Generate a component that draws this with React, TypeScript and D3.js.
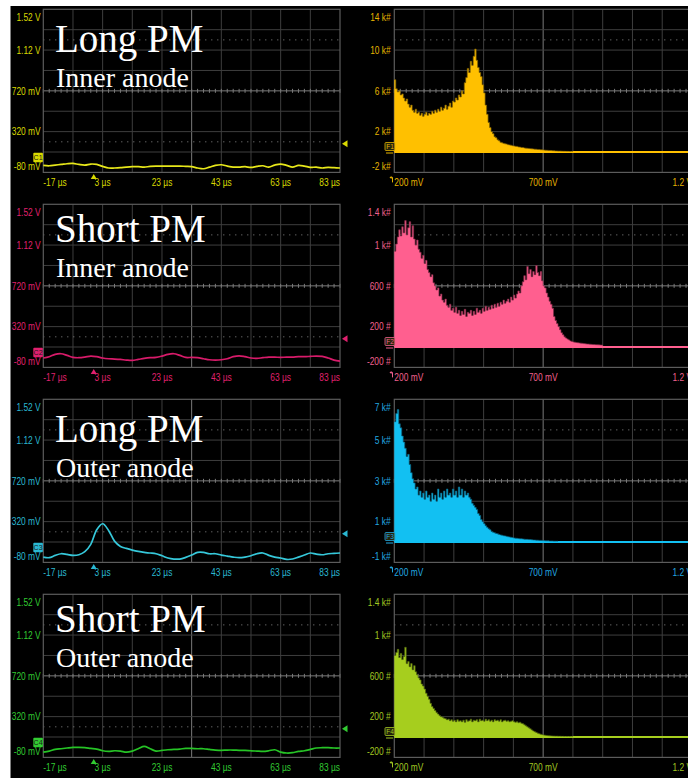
import React from 'react';
import * as d3 from 'd3';

const W = 688;
const H = 778;

// scope traces, one sample every 2 µs from -17 µs to 83 µs (values in mV)
const traceTimes = d3.range(-17, 84, 2);

const longInnerTrace = [
  -11, -15, -8, -2, 5, 8, -2, -8, 2, -2, -21, -37, -37, -34, -28, -24, -24, -28, -21, -18,
  -18, -18, -18, -18, -21, -24, -37, -44, -28, -11, -5, -18, -28, -28, -24, -31, -21, -15, -28, -8,
  2, -11, -28, -11, -18, -31, -28, -37, -31, -34, -37,
];
const shortInnerTrace = [
  12, 25, 48, 54, 38, 18, 15, 21, 31, 25, 12, 5, 2, -2, -8, -11, -2, 8, 15, 18,
  31, 48, 54, 38, 18, 18, 15, 5, -5, -8, -5, 5, 25, 34, 25, 12, 8, 15, 21, 21,
  18, 21, 21, 25, 25, 28, 31, 28, 12, -8, -18,
];
const longOuterTrace = [
  -28, -34, -11, 5, -2, -11, -5, 25, 97, 240, 299, 234, 129, 77, 57, 41, 28, 18, 12, 5,
  -15, -37, -47, -47, -31, -8, 18, 18, 5, 5, -8, -18, -28, -34, -28, -15, 5, 12, -11, -28,
  -37, -51, -47, -28, -8, 12, 2, -5, 5, 8, 12,
];
const shortOuterTrace = [
  -28, -18, -2, 5, 12, 18, 18, 15, 8, 2, -15, -21, -15, -18, -28, -18, 5, 28, 5, -18,
  -11, -5, -2, 2, 8, 8, 5, 5, -2, -8, -11, -8, -8, -11, -11, -15, -18, -21, -15, -5,
  -28, -37, -34, -21, -15, -2, 12, 15, 15, 12, 12,
];

// pulse height histograms, 5 mV bins starting at 200 mV
const binStart = 200;
const binWidth = 5;

// k#
const longInnerHist = [
  7.1, 6.2, 5.9, 6.0, 5.6, 5.7, 5.3, 5.0, 5.2, 4.7, 4.4, 4.6, 4.1, 3.9, 4.2, 3.8, 3.9, 3.6, 3.8, 3.5,
  3.7, 3.9, 3.6, 3.8, 3.7, 4.0, 3.8, 4.1, 3.9, 4.2, 4.0, 4.4, 4.1, 4.3, 4.6, 4.2, 4.5, 4.8, 4.4, 5.0,
  4.9, 5.3, 5.1, 5.6, 5.4, 6.0, 5.7, 6.8, 7.3, 8.2, 7.8, 8.9, 8.5, 9.4, 10.1, 9.0, 8.3, 7.8, 7.4, 6.6,
  5.8, 4.6, 3.7, 2.9, 2.4, 2.0, 1.8, 1.5, 1.4, 1.2, 1.1, 0.95, 0.9, 0.85, 0.8, 0.78, 0.72, 0.7, 0.66, 0.62,
  0.6, 0.56, 0.55, 0.5, 0.48, 0.45, 0.44, 0.4, 0.38, 0.36, 0.35, 0.33, 0.31, 0.3, 0.28, 0.27, 0.25, 0.24, 0.22, 0.21,
  0.2, 0.18, 0.17, 0.16, 0.15, 0.14, 0.13, 0.12, 0.11, 0.1, 0.09, 0.09, 0.08, 0.07, 0.07, 0.06, 0.06, 0.05, 0.05, 0.05,
];
// #
const shortInnerHist = [
  940, 1010, 1080, 1150, 1090, 1180, 1120, 1240, 1100, 1170, 1230, 1080, 1190, 1060, 1000, 1050, 960, 930, 870, 900,
  820, 850, 760, 730, 690, 710, 630, 600, 560, 580, 500, 520, 460, 440, 470, 410, 390, 420, 360, 380,
  340, 390, 330, 360, 310, 350, 320, 370, 300, 340, 330, 360, 310, 350, 320, 380, 340, 360, 330, 380,
  350, 400, 360, 390, 370, 410, 380, 420, 390, 430, 400, 440, 420, 460, 430, 450, 470, 440, 490, 460,
  510, 480, 520, 550, 530, 600, 640, 700, 660, 790, 720, 760, 690, 740, 710, 800, 730, 700, 740, 650,
  600, 580, 530, 490, 450, 420, 380, 300, 260, 230, 200, 170, 140, 120, 100, 88, 78, 70, 60, 55,
  50, 47, 44, 42, 40, 38, 36, 34, 32, 30, 29, 28, 26, 25, 24, 23, 22, 21, 20, 19,
];
// k#
const longOuterHist = [
  5.9, 6.3, 6.5, 5.8, 5.6, 5.2, 4.9, 4.6, 4.2, 4.3, 3.8, 3.4, 3.1, 2.9, 2.6, 2.7, 2.3, 2.5, 2.2, 2.4,
  2.1, 2.5, 2.2, 2.3, 2.0, 2.4, 2.1, 2.3, 2.0, 2.6, 2.2, 2.4, 2.1, 2.5, 2.2, 2.6, 2.3, 2.4, 2.2, 2.6,
  2.3, 2.5, 2.2, 2.7, 2.3, 2.6, 2.2, 2.5, 2.3, 2.4, 2.2, 2.1, 1.9, 1.8, 1.7, 1.6, 1.4, 1.3, 1.1, 1.0,
  0.9, 0.8, 0.72, 0.65, 0.6, 0.52, 0.48, 0.45, 0.42, 0.4, 0.37, 0.35, 0.33, 0.31, 0.3, 0.28, 0.26, 0.25, 0.23, 0.22,
  0.2, 0.19, 0.18, 0.17, 0.16, 0.16, 0.15, 0.14, 0.13, 0.13, 0.12, 0.12, 0.11, 0.1, 0.1, 0.09, 0.09, 0.08, 0.08, 0.07,
  0.07, 0.06, 0.06, 0.06, 0.05, 0.05, 0.05, 0.04, 0.04, 0.04,
];
// #
const shortOuterHist = [
  800, 830, 860, 780, 820, 760, 790, 880, 720, 740, 690, 720, 660, 700, 640, 610, 580, 560, 520, 500,
  470, 430, 400, 370, 330, 300, 280, 260, 240, 225, 210, 200, 195, 185, 180, 170, 175, 160, 170, 155,
  165, 150, 170, 155, 160, 150, 165, 145, 170, 155, 160, 175, 150, 165, 160, 170, 150, 175, 160, 165,
  155, 175, 160, 170, 155, 165, 150, 170, 160, 165, 155, 170, 150, 160, 165, 155, 160, 150, 155, 160,
  150, 145, 150, 140, 145, 135, 130, 120, 110, 100, 90, 80, 70, 60, 52, 45, 38, 32, 27, 23,
  20, 17, 15, 13, 12, 11, 10, 9, 8, 8, 7, 7, 6, 6, 5, 5, 5, 5, 4, 4,
];

// axis labels
const scopeYValues = [1520, 1120, 720, 320, -80];
const scopeYLabels = ['1.52 V', '1.12 V', '720 mV', '320 mV', '-80 mV'];
const scopeXValues = [-17, 3, 23, 43, 63, 83];
const scopeXLabels = ['-17 µs', '3 µs', '23 µs', '43 µs', '63 µs', '83 µs'];
const histXValues = [200, 700, 1200];
const histXLabels = ['200 mV', '700 mV', '1.2 V'];

const kCountValues = [14, 10, 6, 2, -2];
const kCountLabels = ['14 k#', '10 k#', '6 k#', '2 k#', '-2 k#'];
const smallCountValues = [1400, 1000, 600, 200, -200];
const smallCountLabels = ['1.4 k#', '1 k#', '600 #', '200 #', '-200 #'];
const cyanCountValues = [7, 5, 3, 1, -1];
const cyanCountLabels = ['7 k#', '5 k#', '3 k#', '1 k#', '-1 k#'];

const titles = ['Long PM', 'Short PM', 'Long PM', 'Short PM'];
const subtitles = ['Inner anode', 'Inner anode', 'Outer anode', 'Outer anode'];

const rows = [
  {
    title: titles[0], subtitle: subtitles[0], ch: 'C1', fn: 'F1', titleY: 42.4,
    trace: longInnerTrace, hist: longInnerHist, yDom: [-2, 14], yVals: kCountValues, yLabs: kCountLabels,
    scopeText: '#d9d900', traceColor: '#e8e81a', histText: '#e6b400', fill: '#ffc000', edge: '#7a5c00',
  },
  {
    title: titles[1], subtitle: subtitles[1], ch: 'C2', fn: 'F2', titleY: 37.4,
    trace: shortInnerTrace, hist: shortInnerHist, yDom: [-200, 1400], yVals: smallCountValues, yLabs: smallCountLabels,
    scopeText: '#e0206e', traceColor: '#d81b6a', histText: '#f0608e', fill: '#ff5f8f', edge: '#7a2a44',
  },
  {
    title: titles[2], subtitle: subtitles[2], ch: 'C3', fn: 'F3', titleY: 42.4,
    trace: longOuterTrace, hist: longOuterHist, yDom: [-1, 7], yVals: cyanCountValues, yLabs: cyanCountLabels,
    scopeText: '#2ab8d2', traceColor: '#36c8da', histText: '#22a8e0', fill: '#12c0f2', edge: '#0a5c78',
  },
  {
    title: titles[3], subtitle: subtitles[3], ch: 'C4', fn: 'F4', titleY: 37.4,
    trace: shortOuterTrace, hist: shortOuterHist, yDom: [-200, 1400], yVals: smallCountValues, yLabs: smallCountLabels,
    scopeText: '#32cc32', traceColor: '#26c426', histText: '#a2c822', fill: '#a6ce1e', edge: '#4e6410',
  },
];

const ROW_PITCH = 195;
const PLOT_TOP = 9.3;
const PLOT_H = 163.1;
const GRID = '#3e3e3e';
const CENTER = '#7a7a7a';
const BORDER = '#5c5c5c';
const SANS = 'Liberation Sans, Arial, sans-serif';
const SERIF = 'Liberation Serif, Times New Roman, serif';

const Lbl: React.FC<{ x: number; y: number; anchor: string; fill: string; children: React.ReactNode }> = ({ x, y, anchor, fill, children }) => (
  <text
    transform={`translate(${x},${y}) scale(0.8,1)`}
    textAnchor={anchor as any}
    dominantBaseline="central"
    fill={fill}
    fontSize={10.5}
    fontFamily={SANS}
  >
    {children}
  </text>
);

// grid shared by scope and histogram panels
const Grid: React.FC<{ x0: number; x1: number; top: number; bottom: number; lowerDots: boolean }> = ({ x0, x1, top, bottom, lowerDots }) => {
  const dx = (x1 - x0) / 10;
  const dy = (bottom - top) / 8;
  return (
    <g>
      {d3.range(1, 10).map(i => (
        <line key={'v' + i} x1={x0 + i * dx} x2={x0 + i * dx} y1={top} y2={bottom} stroke={i === 5 ? CENTER : GRID} strokeWidth={1} />
      ))}
      {d3.range(1, 8).map(i => (
        <line key={'h' + i} x1={x0} x2={x1} y1={top + i * dy} y2={top + i * dy} stroke={i === 4 ? CENTER : GRID} strokeWidth={1} />
      ))}
      {d3.range(0, 51).map(i => (
        <line key={'t' + i} x1={x0 + (i * dx) / 5} x2={x0 + (i * dx) / 5} y1={top + 4 * dy - 2} y2={top + 4 * dy + 2} stroke={CENTER} strokeWidth={1} />
      ))}
      <line x1={x0} x2={x1} y1={top + 1.5 * dy} y2={top + 1.5 * dy} stroke="#8a8a8a" strokeWidth={1} strokeDasharray="1,5" />
      {lowerDots && (
        <line x1={x0} x2={x1} y1={top + 6.5 * dy} y2={top + 6.5 * dy} stroke="#8a8a8a" strokeWidth={1} strokeDasharray="1,5" />
      )}
      <rect x={x0} y={top} width={x1 - x0} height={bottom - top} fill="none" stroke={BORDER} strokeWidth={1.2} />
    </g>
  );
};

const ScopePanel: React.FC<{ row: typeof rows[number]; top: number }> = ({ row, top }) => {
  const bottom = top + PLOT_H;
  const x = d3.scaleLinear().domain([-17, 83]).range([43.3, 340]);
  const y = d3.scaleLinear().domain([-80, 1520]).range([bottom, top]);
  const line = d3.line<number>()
    .x((_, i) => x(traceTimes[i]))
    .y(d => y(d))
    .curve(d3.curveCatmullRom.alpha(0.5));
  const zeroY = y(0);
  const trigY = y(200);
  const trigX = x(0);
  return (
    <g>
      <Grid x0={43.3} x1={340} top={top} bottom={bottom} lowerDots={true} />
      <path d={line(row.trace) || ''} fill="none" stroke={row.traceColor} strokeWidth={1.7} />
      {scopeYValues.map((v, i) => (
        <Lbl key={i} x={40.7} y={Math.min(Math.max(y(v), top + 7.4), bottom - 5.8)} anchor="end" fill={row.scopeText}>
          {scopeYLabels[i]}
        </Lbl>
      ))}
      {scopeXValues.map((v, i) => (
        <Lbl
          key={i}
          x={x(v)}
          y={bottom + 9.4}
          anchor={i === 0 ? 'start' : i === scopeXValues.length - 1 ? 'end' : 'middle'}
          fill={row.scopeText}
        >
          {scopeXLabels[i]}
        </Lbl>
      ))}
      {/* channel marker */}
      <rect x={33.3} y={zeroY - 11.5} width={9.6} height={9.6} fill={row.scopeText} rx={1} />
      <text x={38.1} y={zeroY - 6.4} textAnchor="middle" dominantBaseline="central" fontSize={7} fontFamily={SANS} fill="#1a1a1a">
        {row.ch}
      </text>
      {/* trigger position and level */}
      <path d={`M${trigX},${bottom + 1.5} L${trigX + 3},${bottom + 6.5} L${trigX - 3},${bottom + 6.5} Z`} fill={row.scopeText} />
      <path d={`M342,${trigY} L347.5,${trigY - 3.5} L347.5,${trigY + 3.5} Z`} fill={row.scopeText} />
      <text x={55} y={top + row.titleY} fontFamily={SERIF} fontSize={39} fill="#ffffff">
        {row.title}
      </text>
      <text x={56} y={top + row.titleY + 35.6} fontFamily={SERIF} fontSize={28} fill="#ffffff">
        {row.subtitle}
      </text>
    </g>
  );
};

const HistPanel: React.FC<{ row: typeof rows[number]; top: number }> = ({ row, top }) => {
  const bottom = top + PLOT_H;
  const x0 = 394.3;
  const x1 = 692;
  const x = d3.scaleLinear().domain([200, 1200]).range([x0, x1]);
  const y = d3.scaleLinear().domain(row.yDom).range([bottom, top]);
  const pts = row.hist.map((v, i) => ({ mv: binStart + i * binWidth, v }));
  pts.push({ mv: binStart + row.hist.length * binWidth, v: row.hist[row.hist.length - 1] });
  const area = d3.area<{ mv: number; v: number }>()
    .x(d => x(d.mv))
    .y0(y(0))
    .y1(d => y(d.v))
    .curve(d3.curveStepAfter);
  const edge = d3.line<{ mv: number; v: number }>()
    .x(d => x(d.mv))
    .y(d => y(d.v))
    .curve(d3.curveStepAfter);
  const zeroY = y(0);
  return (
    <g>
      <Grid x0={x0} x1={x1} top={top} bottom={bottom} lowerDots={false} />
      <line x1={x0} x2={x1} y1={zeroY} y2={zeroY} stroke={row.fill} strokeWidth={2.2} />
      <path d={area(pts) || ''} fill={row.fill} />
      <path d={edge(pts) || ''} fill="none" stroke={row.edge} strokeWidth={0.8} strokeOpacity={0.85} />
      {row.yVals.map((v, i) => (
        <Lbl key={i} x={390.7} y={Math.min(Math.max(y(v), top + 7.4), bottom - 5.8)} anchor="end" fill={row.histText}>
          {row.yLabs[i]}
        </Lbl>
      ))}
      {histXValues.map((v, i) => (
        <Lbl
          key={i}
          x={x(v)}
          y={bottom + 9.4}
          anchor={i === 0 ? 'start' : i === histXValues.length - 1 ? 'end' : 'middle'}
          fill={row.histText}
        >
          {histXLabels[i]}
        </Lbl>
      ))}
      <path d={`M392.5,${bottom + 10} L392.5,${bottom + 5} L390.5,${bottom + 5}`} fill="none" stroke={row.histText} strokeWidth={1} />
      <path d={`M389.5,${bottom + 5} L391.5,${bottom + 3.5} L391.5,${bottom + 6.5} Z`} fill={row.histText} />
      {/* math function marker */}
      <rect x={385} y={zeroY - 9.5} width={10} height={8} fill="#3a3a10" fillOpacity={0.6} stroke={row.histText} strokeWidth={0.8} rx={1} />
      <text x={390} y={zeroY - 5.4} textAnchor="middle" dominantBaseline="central" fontSize={6.5} fontFamily={SANS} fill={row.histText}>
        {row.fn}
      </text>
      <line x1={386} x2={393} y1={zeroY + 1} y2={zeroY + 1} stroke={row.histText} strokeWidth={1} />
    </g>
  );
};

export default function App() {
  return (
    <svg width={W} height={H} style={{ position: 'absolute', left: 0, top: 0, background: '#000' }}>
      <rect x={0} y={0} width={W} height={H} fill="#000" />
      <rect x={0} y={0} width={W} height={6} fill="#fff" />
      <rect x={0} y={0} width={10.5} height={H} fill="#fff" />
      {rows.map((row, i) => (
        <g key={i}>
          <ScopePanel row={row} top={PLOT_TOP + i * ROW_PITCH} />
          <HistPanel row={row} top={PLOT_TOP + i * ROW_PITCH} />
        </g>
      ))}
    </svg>
  );
}
